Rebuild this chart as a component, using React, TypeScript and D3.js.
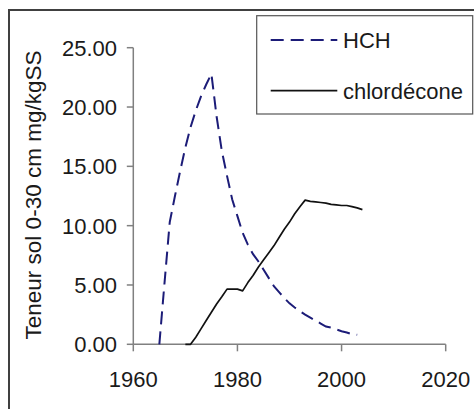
import React from "react";
import * as d3 from "d3";

// HCH and chlordécone soil content (mg/kgSS), yearly values
const hchYears = [
  1965, 1966, 1967, 1968, 1969, 1970, 1971, 1972, 1973, 1974, 1975, 1976, 1977,
  1978, 1979, 1980, 1981, 1982, 1983, 1984, 1985, 1986, 1987, 1988, 1989, 1990,
  1991, 1992, 1993, 1994, 1995, 1996, 1997, 1998, 1999, 2000, 2001, 2002, 2003,
];
const hchValues = [
  0, 5.2, 10.3, 12.5, 14.6, 16.6, 18.3, 19.7, 20.9, 21.9, 22.8, 19.2, 16.3,
  14.2, 12.2, 10.8, 9.4, 8.4, 7.6, 7.0, 6.3, 5.6, 4.9, 4.4, 3.9, 3.45, 3.1,
  2.8, 2.5, 2.25, 2.0, 1.75, 1.5, 1.4, 1.25, 1.1, 1.0, 0.85, 0.8,
];

const chlYears = [
  1970, 1971, 1972, 1973, 1974, 1975, 1976, 1977, 1978, 1979, 1980, 1981, 1982,
  1983, 1984, 1985, 1986, 1987, 1988, 1989, 1990, 1991, 1992, 1993, 1994, 1995,
  1996, 1997, 1998, 1999, 2000, 2001, 2002, 2003, 2004,
];
const chlValues = [
  0, 0, 0.6, 1.3, 2.0, 2.7, 3.4, 4.0, 4.65, 4.65, 4.65, 4.5, 5.2, 5.8, 6.5,
  7.1, 7.7, 8.3, 9.0, 9.7, 10.3, 11.0, 11.6, 12.15, 12.05, 12.0, 11.95, 11.9,
  11.8, 11.75, 11.7, 11.7, 11.6, 11.5, 11.35,
];

const yTicks = [0, 5, 10, 15, 20, 25];
const xTicks = [1960, 1980, 2000, 2020];
const seriesNames = ["HCH", "chlordécone"];
const yTitle = "Teneur sol 0-30 cm mg/kgSS";

const W = 474;
const H = 409;
const FONT = "'Liberation Sans', Arial, sans-serif";

export default function App() {
  const x = d3.scaleLinear().domain([1960, 2020]).range([133.3, 445.7]);
  const y = d3.scaleLinear().domain([0, 25]).range([344.3, 47.7]);

  const line = d3
    .line<[number, number]>()
    .x((d) => x(d[0]))
    .y((d) => y(d[1]));

  const hch = line(hchYears.map((yr, i) => [yr, hchValues[i]]) as [number, number][]);
  const chl = line(chlYears.map((yr, i) => [yr, chlValues[i]]) as [number, number][]);

  const axisColor = "#808080";

  return (
    <svg
      width={W}
      height={H}
      style={{ position: "absolute", left: 0, top: 0, background: "#fff" }}
      fontFamily={FONT}
    >
      <rect x={0} y={0} width={W} height={H} fill="#fff" />
      {/* outer frame, cropped on right and bottom */}
      <path d={`M9,${H} V10 H${W}`} fill="none" stroke="#404040" strokeWidth={2} />

      {/* y axis */}
      <line x1={x(1960)} x2={x(1960)} y1={y(25)} y2={y(0)} stroke={axisColor} strokeWidth={1.5} />
      {yTicks.map((t) => (
        <g key={t}>
          <line x1={x(1960) - 6.5} x2={x(1960)} y1={y(t)} y2={y(t)} stroke={axisColor} strokeWidth={1.5} />
          <text x={117} y={y(t)} dy="0.36em" textAnchor="end" fontSize={22} fill="#1a1a1a">
            {t.toFixed(2)}
          </text>
        </g>
      ))}

      {/* x axis */}
      <line x1={x(1960)} x2={x(2020)} y1={y(0)} y2={y(0)} stroke={axisColor} strokeWidth={1.5} />
      {xTicks.map((t) => (
        <g key={t}>
          <line x1={x(t)} x2={x(t)} y1={y(0)} y2={y(0) + 7} stroke={axisColor} strokeWidth={1.5} />
          <text x={x(t)} y={386.5} textAnchor="middle" fontSize={22} fill="#1a1a1a">
            {t}
          </text>
        </g>
      ))}

      <text
        transform={`translate(32.5,195) rotate(-90)`}
        textAnchor="middle"
        dy="0.36em"
        fontSize={22.5}
        fill="#1a1a1a"
      >
        {yTitle}
      </text>

      {/* series */}
      <path d={chl ?? ""} fill="none" stroke="#111" strokeWidth={1.7} strokeLinejoin="round" />
      <path d={hch ?? ""} fill="none" stroke="#1c1c78" strokeWidth={2} strokeDasharray="13,7" />

      {/* legend */}
      <rect x={256.7} y={15.7} width={216} height={98.3} fill="#fff" stroke="#555" strokeWidth={1.2} />
      <line x1={270.7} x2={337.3} y1={40} y2={40} stroke="#1c1c78" strokeWidth={2} strokeDasharray="13,7" />
      <text x={343} y={40} dy="0.36em" fontSize={22} fill="#1a1a1a">
        {seriesNames[0]}
      </text>
      <line x1={270.7} x2={337.3} y1={90.7} y2={90.7} stroke="#111" strokeWidth={1.7} />
      <text x={343} y={90.7} dy="0.36em" fontSize={22} fill="#1a1a1a">
        {seriesNames[1]}
      </text>
    </svg>
  );
}
